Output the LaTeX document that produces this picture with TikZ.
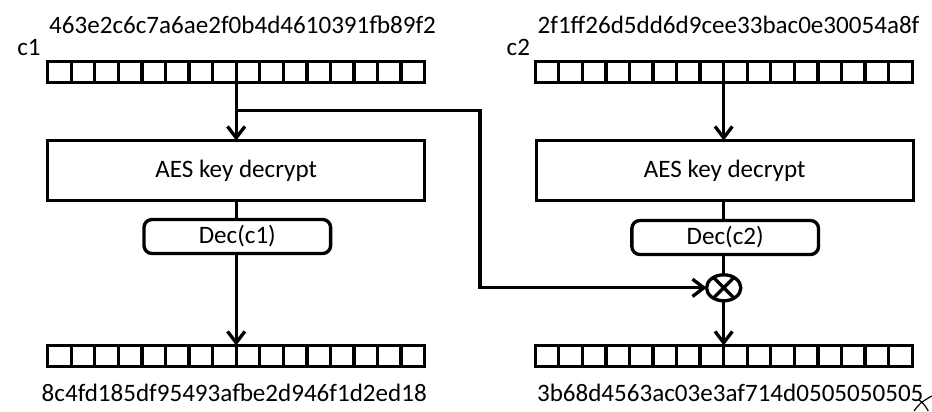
\documentclass[tikz,border=0pt]{standalone}
\usepackage{fontspec}
\setmainfont{Carlito}
\usetikzlibrary{arrows.meta,shapes.geometric,calc}
\begin{document}
\begin{tikzpicture}[x=0.75pt,y=-0.75pt,
  every node/.style={font=\fontsize{18.8}{22}\selectfont, inner sep=0pt, outer sep=0pt},
  reg/.style={draw, line width=2.5pt, rectangle, minimum width=282.75pt, minimum height=15.75pt},
  aesbox/.style={draw, line width=2.5pt, rectangle, minimum width=282.75pt, minimum height=44.8pt},
  decbox/.style={draw, line width=2.5pt, rectangle, rounded corners=6pt, minimum width=140pt, minimum height=25.5pt},
  xorc/.style={draw, line width=2.5pt, ellipse, minimum width=25.7pt, minimum height=19.5pt},
  conn/.style={line width=2.5pt},
  arr/.style={line width=2.5pt, -{Straight Barb[length=8.5pt,width=13pt]}},
  hex/.style={anchor=base},
]
\useasboundingbox (0,0) rectangle (932,411);

% registers
\node[reg] (r1) at (236.2,72) {};
\node[reg] (r2) at (723.7,72) {};
\node[reg] (r3) at (236.2,356) {};
\node[reg] (r4) at (723.7,356) {};
\foreach \r in {r1,r2,r3,r4}{
  \foreach \i in {1,...,15}{
    \draw[line width=2.5pt] ($(\r.north west)!\i/16!(\r.north east)$) -- ($(\r.south west)!\i/16!(\r.south east)$);
  }
}

% texts
\node[hex] (t1) at (242.5,33.3) {463e2c6c7a6ae2f0b4d4610391fb89f2};
\node[hex] (t2) at (728.5,33.3) {2f1ff26d5dd6d9cee33bac0e30054a8f};
\node[anchor=base west] (l1) at (17.3,55) {c1};
\node[anchor=base west] (l2) at (506.7,55) {c2};
\node[hex] (t3) at (234.2,401.7) {8c4fd185df95493afbe2d946f1d2ed18};
\node[hex] (t4) at (730.2,401.7) {3b68d4563ac03e3af714d0505050505};

% boxes
\node[aesbox] (a1) at (236.2,170.4) {AES key decrypt};
\node[aesbox] (a2) at (724.7,170.4) {AES key decrypt};
\node[decbox] (d1) at (237.3,236.5) {Dec(c1)};
\node[decbox] (d2) at (725.2,237.5) {Dec(c2)};
\node[xorc] (x) at (723.7,287.8) {};
\draw[line width=2.5pt] (x.45) -- (x.225) (x.135) -- (x.315);

% connectors
\draw[arr] (r1.south) -- (a1.north);
\draw[conn] (a1.south) -- (d1.north -| a1.south);
\draw[arr] (d1.south -| r3.north) -- (r3.north);
\draw[arr] (r2.south) -- (r2.south |- a2.north);
\draw[conn] (r2.south |- a2.south) -- (r2.south |- d2.north);
\draw[conn] (r2.south |- d2.south) -- (x.north);
\draw[arr] (x.south) -- (r4.north);
\coordinate (b0) at (236.2,110.5);
\coordinate (b1) at (480,110.5);
\coordinate (b2) at (480,287.8);
\draw[arr] (b0) -- (b1) -- (b2) -- (x.west);

% stray mark
\draw[line width=0.9pt] (914,411) .. controls (920,403) .. (931.7,396);
\draw[line width=0.9pt] (919,400) .. controls (924,404) .. (928.3,411);
\end{tikzpicture}
\end{document}
